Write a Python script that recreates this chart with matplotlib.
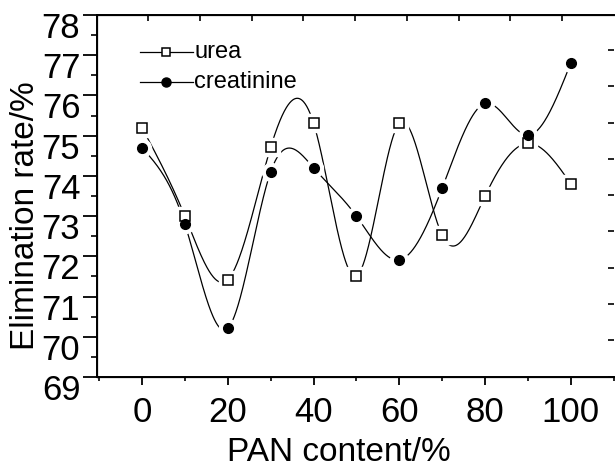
import numpy as np
import matplotlib
matplotlib.use("Agg")
import matplotlib.pyplot as plt
import matplotlib.transforms as mtransforms
from matplotlib.ticker import MultipleLocator, FixedLocator, NullFormatter

plt.rcParams['font.family'] = ['Liberation Sans', 'DejaVu Sans']

# Daten
pan = np.array([0, 10, 20, 30, 40, 50, 60, 70, 80, 90, 100])
urea = np.array([75.20, 73.00, 71.42, 74.71, 75.31, 71.51, 75.31, 72.52, 73.50, 74.81, 73.80])
creatinine = np.array([74.70, 72.80, 70.21, 74.10, 74.20, 73.00, 71.91, 73.70, 75.80, 75.01, 76.81])


def natural_spline(x, y, xs):
    # natuerlicher kubischer Spline
    n = len(x)
    h = np.diff(x)
    A = np.zeros((n, n))
    b = np.zeros(n)
    A[0, 0] = 1
    A[-1, -1] = 1
    for i in range(1, n - 1):
        A[i, i - 1] = h[i - 1]
        A[i, i] = 2 * (h[i - 1] + h[i])
        A[i, i + 1] = h[i]
        b[i] = 3 * ((y[i + 1] - y[i]) / h[i] - (y[i] - y[i - 1]) / h[i - 1])
    c = np.linalg.solve(A, b)
    idx = np.clip(np.searchsorted(x, xs) - 1, 0, n - 2)
    dx = xs - x[idx]
    bb = (y[idx + 1] - y[idx]) / h[idx] - h[idx] * (2 * c[idx] + c[idx + 1]) / 3
    d = (c[idx + 1] - c[idx]) / (3 * h[idx])
    return y[idx] + bb * dx + c[idx] * dx ** 2 + d * dx ** 3


xs = np.linspace(0, 100, 800)

fig = plt.figure(figsize=(6.15, 4.74), dpi=100)
ax = fig.add_axes([0.1577, 0.2046, 0.8403, 0.7638])

ax.plot(xs, natural_spline(pan, urea, xs), color='black', lw=0.9, zorder=2)
ax.plot(xs, natural_spline(pan, creatinine, xs), color='black', lw=0.9, zorder=2)

# weisse Luecken um die Marker
ax.plot(pan, urea, 's', ms=13, color='white', mec='white', zorder=3)
ax.plot(pan, creatinine, 'o', ms=13, color='white', mec='white', zorder=3)
ax.plot(pan, urea, 's', ms=6.5, mfc='white', mec='black', mew=1.1, zorder=4)
ax.plot(pan, creatinine, 'o', ms=7, color='black', zorder=4)

# Legende von Hand
ax.plot([-0.5, 12.0], [77.08, 77.08], color='black', lw=0.9, zorder=2)
ax.plot([5.6], [77.08], 's', ms=6, color='white', mec='black', mew=1.1, zorder=4)
ax.text(12.2, 77.08, 'urea', fontsize=17, va='center', ha='left')
ax.plot([-0.5, 12.0], [76.33, 76.33], color='black', lw=0.9, zorder=2)
ax.plot([5.6], [76.33], 'o', ms=6.5, color='black', zorder=4)
ax.text(12.2, 76.33, 'creatinine', fontsize=17, va='center', ha='left')

ax.set_xlim(-10.5, 110)
ax.set_ylim(69, 78)
ax.xaxis.set_major_locator(MultipleLocator(20))
ax.xaxis.set_minor_locator(MultipleLocator(10))
ax.yaxis.set_major_locator(MultipleLocator(1))
ax.yaxis.set_minor_locator(MultipleLocator(0.5))
ax.tick_params(axis='both', which='major', labelsize=25, width=1.3, direction='out')
ax.tick_params(axis='y', which='major', length=10, pad=2)
ax.tick_params(axis='y', which='minor', length=4, width=1.2)
ax.tick_params(axis='x', which='major', length=6, pad=8)
ax.tick_params(axis='x', which='minor', length=3, width=1.2)

for s in ['left', 'bottom', 'top']:
    ax.spines[s].set_linewidth(1.4)
ax.spines['right'].set_visible(False)

# obere und rechte Achse mit eigenen Ticks
top = ax.twiny()
top.set_xlim(ax.get_xlim())
top.xaxis.set_major_locator(FixedLocator(np.arange(1.4, 110, 12.07)))
top.xaxis.set_major_formatter(NullFormatter())
top.tick_params(axis='x', direction='in', length=4, width=1.2)
right = ax.twinx()
right.set_ylim(ax.get_ylim())
right.yaxis.set_major_locator(FixedLocator(np.arange(77.13, 69.0, -0.902)))
right.yaxis.set_major_formatter(NullFormatter())
right.tick_params(axis='y', direction='in', length=4, width=1.2)
for a in (top, right):
    a.spines['right'].set_visible(False)
    a.patch.set_visible(False)

ax.set_xlabel('PAN content/%', fontsize=24)
ax.set_ylabel('Elimination rate/%', fontsize=24)
ax.xaxis.set_label_coords(0.468, -0.166)
ax.yaxis.set_label_coords(-0.108, 0.445)

# y-Beschriftungen etwas nach unten versetzt wie im Original
fig.canvas.draw()
shift = mtransforms.ScaledTranslation(0, -0.10, fig.dpi_scale_trans)
for lab in ax.get_yticklabels():
    lab.set_transform(lab.get_transform() + shift)

fig.savefig('out.png', dpi=100)
